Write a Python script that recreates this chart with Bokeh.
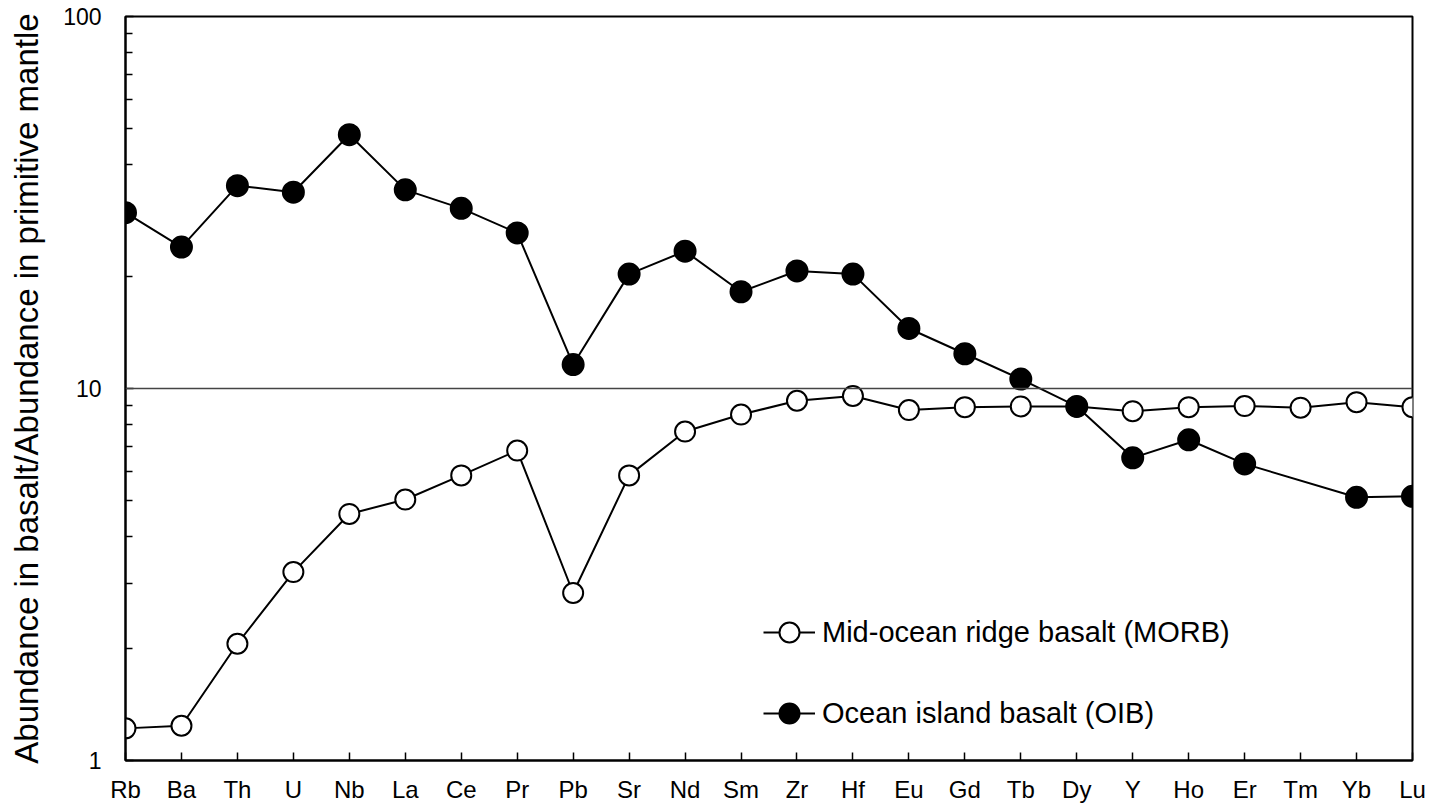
from bokeh.plotting import figure
from bokeh.models import (Range1d, FixedTicker, Span, Legend, LegendItem,
                          ColumnDataSource)
from bokeh.embed import file_html
from bokeh.resources import INLINE

# ---- data ----
elements = ["Rb", "Ba", "Th", "U", "Nb", "La", "Ce", "Pr", "Pb", "Sr", "Nd", "Sm",
            "Zr", "Hf", "Eu", "Gd", "Tb", "Dy", "Y", "Ho", "Er", "Tm", "Yb", "Lu"]
morb = [1.22, 1.24, 2.06, 3.21, 4.60, 5.03, 5.84, 6.81, 2.82, 5.84, 7.66, 8.51,
        9.27, 9.55, 8.75, 8.91, 8.95, 8.95, 8.69, 8.91, 8.97, 8.88, 9.19, 8.91]
oib = [29.7, 24.0, 35.1, 33.7, 48.1, 34.2, 30.5, 26.2, 11.6, 20.3, 23.4, 18.2,
       20.7, 20.3, 14.5, 12.4, 10.6, 8.95, 6.51, 7.28, 6.27, None, 5.10, 5.13]
y_major = [1, 10, 100]
y_minor = [2, 3, 4, 5, 6, 7, 8, 9, 20, 30, 40, 50, 60, 70, 80, 90]

FONT = "Liberation Sans"

x_all = list(range(len(elements)))
morb_src = ColumnDataSource(dict(x=x_all, y=morb))
oib_x = [i for i, v in zip(x_all, oib) if v is not None]
oib_y = [v for v in oib if v is not None]
oib_src = ColumnDataSource(dict(x=oib_x, y=oib_y))

p = figure(frame_width=1287, frame_height=744, y_axis_type="log",
           x_range=Range1d(0, len(elements) - 1), y_range=Range1d(1, 100),
           output_backend="svg", toolbar_location=None,
           min_border_left=125, min_border_top=16, min_border_right=14,
           min_border_bottom=40)
p.background_fill_color = "white"
p.border_fill_color = "white"
p.grid.visible = False
p.outline_line_color = "black"
p.outline_line_width = 2

# x axis
xa = p.xaxis[0]
xa.ticker = FixedTicker(ticks=x_all)
xa.major_label_overrides = {i: e for i, e in enumerate(elements)}
xa.major_label_text_font = FONT
xa.major_label_text_font_size = "24px"
xa.major_label_text_color = "black"
xa.major_label_standoff = 15
xa.major_tick_in = 8
xa.major_tick_out = 0
xa.minor_tick_in = 0
xa.minor_tick_out = 0
xa.axis_line_width = 2
xa.major_tick_line_width = 1.5

# y axis
ya = p.yaxis[0]
ya.ticker = FixedTicker(ticks=y_major, minor_ticks=y_minor)
ya.major_label_overrides = {1: "1", 10: "10", 100: "100"}
ya.major_label_text_font = FONT
ya.major_label_text_font_size = "23px"
ya.major_label_text_color = "black"
ya.major_label_standoff = 24
ya.major_tick_in = 8
ya.major_tick_out = 0
ya.minor_tick_in = 7
ya.minor_tick_out = 0
ya.axis_line_width = 2
ya.major_tick_line_width = 1.5
ya.minor_tick_line_width = 1.5
ya.axis_label = "Abundance in basalt/Abundance in primitive mantle"
ya.axis_label_text_font = FONT
ya.axis_label_text_font_size = "33px"
ya.axis_label_text_font_style = "normal"
ya.axis_label_text_color = "black"
ya.axis_label_standoff = 15

# reference line at 10
p.add_layout(Span(location=10, dimension="width", line_color="#444444", line_width=1.5))

# series
l_morb = p.line("x", "y", source=morb_src, line_color="black", line_width=2)
l_oib = p.line("x", "y", source=oib_src, line_color="black", line_width=2)
s_morb = p.scatter("x", "y", source=morb_src, size=20, marker="circle",
                   fill_color="white", line_color="black", line_width=2)
s_oib = p.scatter("x", "y", source=oib_src, size=21, marker="circle",
                  fill_color="black", line_color="black", line_width=2)

legend = Legend(items=[
    LegendItem(label="Mid-ocean ridge basalt (MORB)", renderers=[l_morb, s_morb]),
    LegendItem(label="Ocean island basalt (OIB)", renderers=[l_oib, s_oib]),
], location=(638, 22))
legend.glyph_width = 52
legend.glyph_height = 50
legend.spacing = 31
legend.padding = 0
legend.margin = 0
legend.label_standoff = 7
legend.label_text_font = FONT
legend.label_text_font_size = "29px"
legend.label_text_color = "black"
legend.border_line_color = None
legend.background_fill_alpha = 0
p.add_layout(legend, "center")

open("out.html", "w").write(file_html(p, INLINE))
